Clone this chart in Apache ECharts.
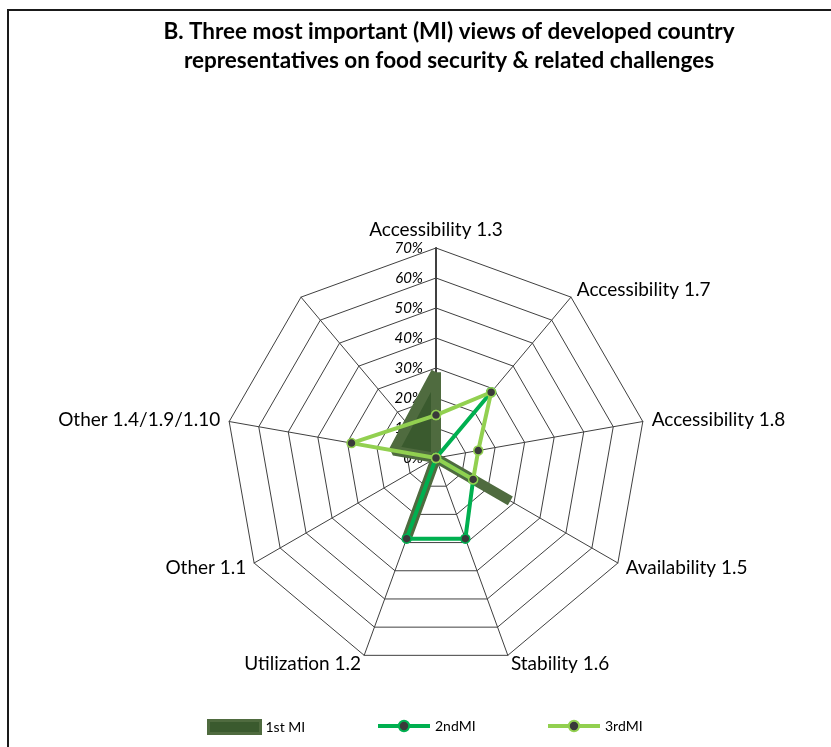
<!DOCTYPE html>
<html>
<head>
<meta charset="utf-8">
<script src="https://cdn.jsdelivr.net/npm/echarts@6/dist/echarts.min.js"></script>
<style>
  html, body { margin: 0; padding: 0; background: #ffffff; }
  #chart { width: 831px; height: 747px; }
</style>
</head>
<body>
<div id="chart"></div>
<script>
// Axes of the radar, clockwise from the top; the last spoke carries no label or data.
const categories = [
  'Accessibility 1.3', 'Accessibility 1.7', 'Accessibility 1.8', 'Availability 1.5',
  'Stability 1.6', 'Utilization 1.2', 'Other 1.1', 'Other 1.4/1.9/1.10', ''
];
// Share of respondents naming each view (fractions); null = blank spoke.
const firstMI  = [0.286, 0,     0,     0.286, 0,     0.286, 0, 0.143, null];
const secondMI = [0,     0.286, 0,     0.143, 0.286, 0.286, 0, 0,     null];
const thirdMI  = [0.143, 0.286, 0.143, 0.143, 0,     0,     0, 0.286, null];
const seriesNames = ['1st MI', '2ndMI', '3rdMI'];
const tickLabels = ['0%', '10%', '20%', '30%', '40%', '50%', '60%', '70%'];
const maxValue = 0.7;

const FONT = 'Lato';
const CENTER = [436, 458];
const RADIUS = 210;
const N = categories.length;

// Polar points [radius, angle] going clockwise; blank spokes are skipped so the
// line joins its neighbours, and the ring is closed back on the first axis.
function ring(values) {
  const pts = [];
  values.forEach(function (v, i) {
    if (v !== null) pts.push([v, i * 360 / N]);
  });
  pts.push([values[0], 360]);
  return pts;
}

// Radar indicators run counter-clockwise, so feed them in reverse after the top one.
const radarOrder = [categories[0]].concat(categories.slice(1).reverse());

const colors = {
  firstFill: '#3A5A2E',
  firstEdge: '#4F6B3F',
  second: '#00B050',
  third: '#92D050',
  marker: '#3A3A3A',
  grid: '#404040'
};

// One legend block per series so each entry sits in its own column.
const legendLeft = [207, 376, 546];
const legendItems = [
  { name: seriesNames[0], icon: 'rect',
    itemStyle: { color: colors.firstFill, borderColor: colors.firstEdge, borderWidth: 3 } },
  { name: seriesNames[1], lineStyle: { color: colors.second, width: 4 } },
  { name: seriesNames[2], lineStyle: { color: colors.third, width: 4 } }
];
const legends = legendItems.map(function (item, i) {
  return {
    left: legendLeft[i],
    top: 719,
    padding: 0,
    itemWidth: 52,
    itemHeight: 13,
    itemGap: 0,
    textStyle: { fontSize: 14, fontFamily: FONT, color: '#000000' },
    data: [item]
  };
});

const chart = echarts.init(document.getElementById('chart'), null, { renderer: 'canvas' });

chart.setOption({
  backgroundColor: '#ffffff',
  animation: false,
  graphic: [
    {
      type: 'rect',
      silent: true,
      shape: { x: 8, y: 10, width: 840, height: 800 },
      style: { fill: 'none', stroke: '#1a1a1a', lineWidth: 2 }
    },
    {
      type: 'text',
      silent: true,
      x: 449,
      y: 46,
      style: {
        text: 'B. Three most important (MI) views of developed country\nrepresentatives on food security & related challenges',
        textAlign: 'center',
        textVerticalAlign: 'middle',
        fontFamily: FONT,
        fontWeight: 'bold',
        fontSize: 22.5,
        lineHeight: 29,
        fill: '#000000'
      }
    }
  ],
  radar: {
    center: CENTER,
    radius: RADIUS,
    startAngle: 90,
    shape: 'polygon',
    splitNumber: 7,
    nameGap: 9,
    indicator: radarOrder.map(function (n) { return { name: n, min: 0, max: maxValue }; }),
    axisName: { color: '#000000', fontSize: 19, fontFamily: FONT },
    axisLine: { lineStyle: { color: colors.grid, width: 1 } },
    splitLine: { lineStyle: { color: colors.grid, width: 1 } },
    splitArea: { show: false },
    axisTick: { show: false },
    axisLabel: { show: false }
  },
  polar: { center: CENTER, radius: RADIUS },
  angleAxis: {
    type: 'value', min: 0, max: 360, startAngle: 90, clockwise: true, show: false
  },
  radiusAxis: {
    type: 'value', min: 0, max: maxValue, interval: 0.1,
    axisLine: { show: true, lineStyle: { color: colors.grid, width: 2 } },
    axisTick: { show: false },
    splitLine: { show: false },
    axisLabel: {
      formatter: function (v) { return tickLabels[Math.round(v * 10)]; },
      fontStyle: 'italic', fontSize: 15, fontFamily: FONT, color: '#000000', margin: 13
    },
    z: 1
  },
  legend: legends,
  series: [
    {
      name: seriesNames[0],
      type: 'line',
      coordinateSystem: 'polar',
      data: ring(firstMI),
      symbol: 'none',
      itemStyle: { color: colors.firstFill },
      lineStyle: { color: colors.firstEdge, width: 10, join: 'bevel' },
      areaStyle: { color: colors.firstFill, opacity: 1 },
      z: 2
    },
    {
      name: seriesNames[1],
      type: 'line',
      coordinateSystem: 'polar',
      data: ring(secondMI),
      symbol: 'circle',
      symbolSize: 9,
      itemStyle: { color: colors.marker, borderColor: colors.second, borderWidth: 1.5 },
      lineStyle: { color: colors.second, width: 4 },
      z: 3
    },
    {
      name: seriesNames[2],
      type: 'line',
      coordinateSystem: 'polar',
      data: ring(thirdMI),
      symbol: 'circle',
      symbolSize: 9,
      itemStyle: { color: colors.marker, borderColor: colors.third, borderWidth: 1.5 },
      lineStyle: { color: colors.third, width: 4 },
      z: 4
    }
  ]
});
</script>
</body>
</html>
